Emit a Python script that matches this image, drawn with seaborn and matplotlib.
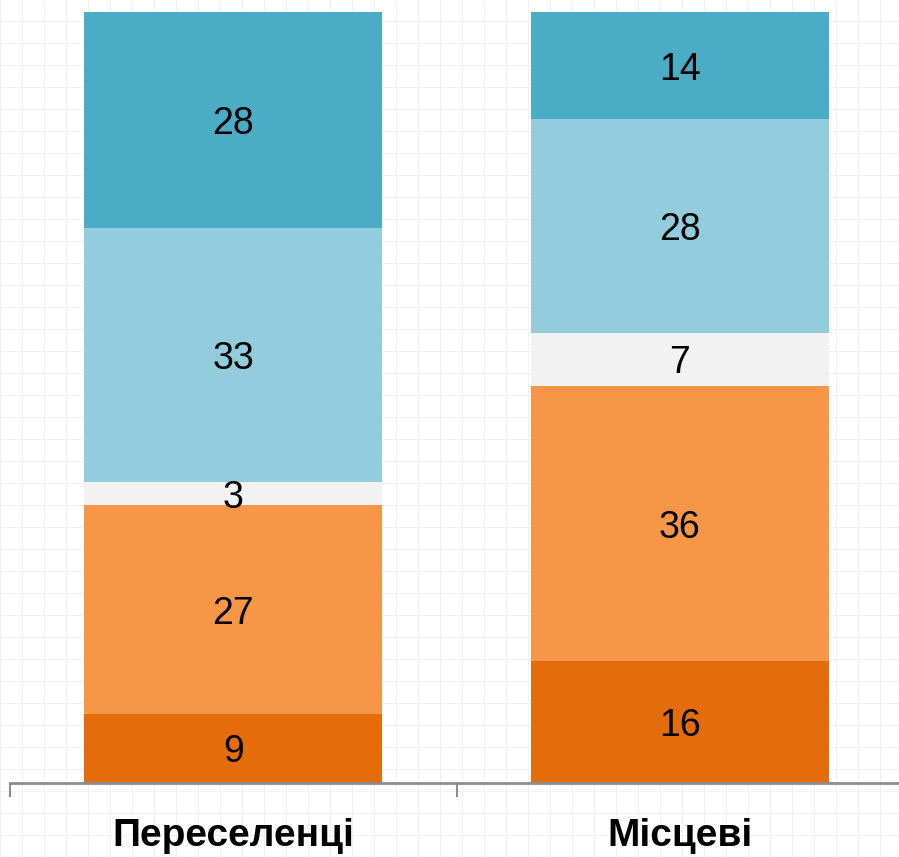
import matplotlib
matplotlib.use("Agg")
import matplotlib.pyplot as plt
import matplotlib.font_manager as fm
import numpy as np
import pandas as pd
import seaborn as sns

categories = ["Переселенці", "Місцеві"]
# segments from bottom to top
segment_names = ["s1", "s2", "s3", "s4", "s5"]
values_pereselentsi = [9, 27, 3, 33, 28]
values_mistsevi = [16, 36, 7, 28, 14]
colors = ["#E46C0A", "#F79646", "#F2F2F2", "#93CDDD", "#4BACC6"]

sns.set_theme(style="white")
names = {f.name for f in fm.fontManager.ttflist}
fam = ["Liberation Sans Narrow", "Liberation Sans", "DejaVu Sans"]
fam = [f for f in fam if f in names] + ["DejaVu Sans"]
plt.rcParams["font.family"] = fam

data = np.array([values_pereselentsi, values_mistsevi], dtype=float)
totals = data.sum(axis=1)
pct = data / totals[:, None] * 100

fig = plt.figure(figsize=(8.99, 8.57), dpi=100)
fig.patch.set_facecolor("white")

# faint graph-paper background
bg = fig.add_axes([0, 0, 1, 1], zorder=-10)
bg.set_xlim(0, 899)
bg.set_ylim(0, 857)
bg.set_xticks(np.arange(0, 900, 22), minor=False)
bg.set_yticks(np.arange(0, 858, 22), minor=False)
bg.grid(True, color="#f1f1f1", linewidth=0.7)
bg.tick_params(length=0, labelbottom=False, labelleft=False)
for s in bg.spines.values():
    s.set_visible(False)
bg.set_facecolor("white")

ax = fig.add_axes([10 / 899, (857 - 783) / 857, 893 / 899, 771 / 857])
ax.set_facecolor("none")

bottom = np.zeros(len(categories))
for j, name in enumerate(segment_names):
    df = pd.DataFrame({"cat": categories, "val": pct[:, j]})
    sns.barplot(data=df, x="cat", y="val", order=categories, color=colors[j],
                width=0.668, bottom=bottom, ax=ax, saturation=1,
                linewidth=0, edgecolor="none")
    cont = ax.containers[-1]
    ax.bar_label(cont, labels=[str(int(v)) for v in data[:, j]],
                 label_type="center", fontsize=27, color="black", padding=-3)
    bottom = bottom + pct[:, j]

ax.set_xlim(-0.5, 1.5)
ax.set_ylim(0, 100)
ax.set_xlabel("")
ax.set_ylabel("")
ax.set_yticks([])
for s in ["top", "right", "left"]:
    ax.spines[s].set_visible(False)
ax.spines["bottom"].set_color("#8c8c8c")
ax.spines["bottom"].set_linewidth(2)
ax.set_xticks([0, 1])
ax.set_xticklabels(categories, fontsize=28, fontweight="bold", color="black")
ax.tick_params(axis="x", which="major", length=0, pad=25)
ax.set_xticks([-0.5, 0.5, 1.5], minor=True)
ax.tick_params(axis="x", which="minor", length=10, width=1.5, color="#8c8c8c",
               direction="out", bottom=True)

fig.savefig("out.png", dpi=100, facecolor="white")
